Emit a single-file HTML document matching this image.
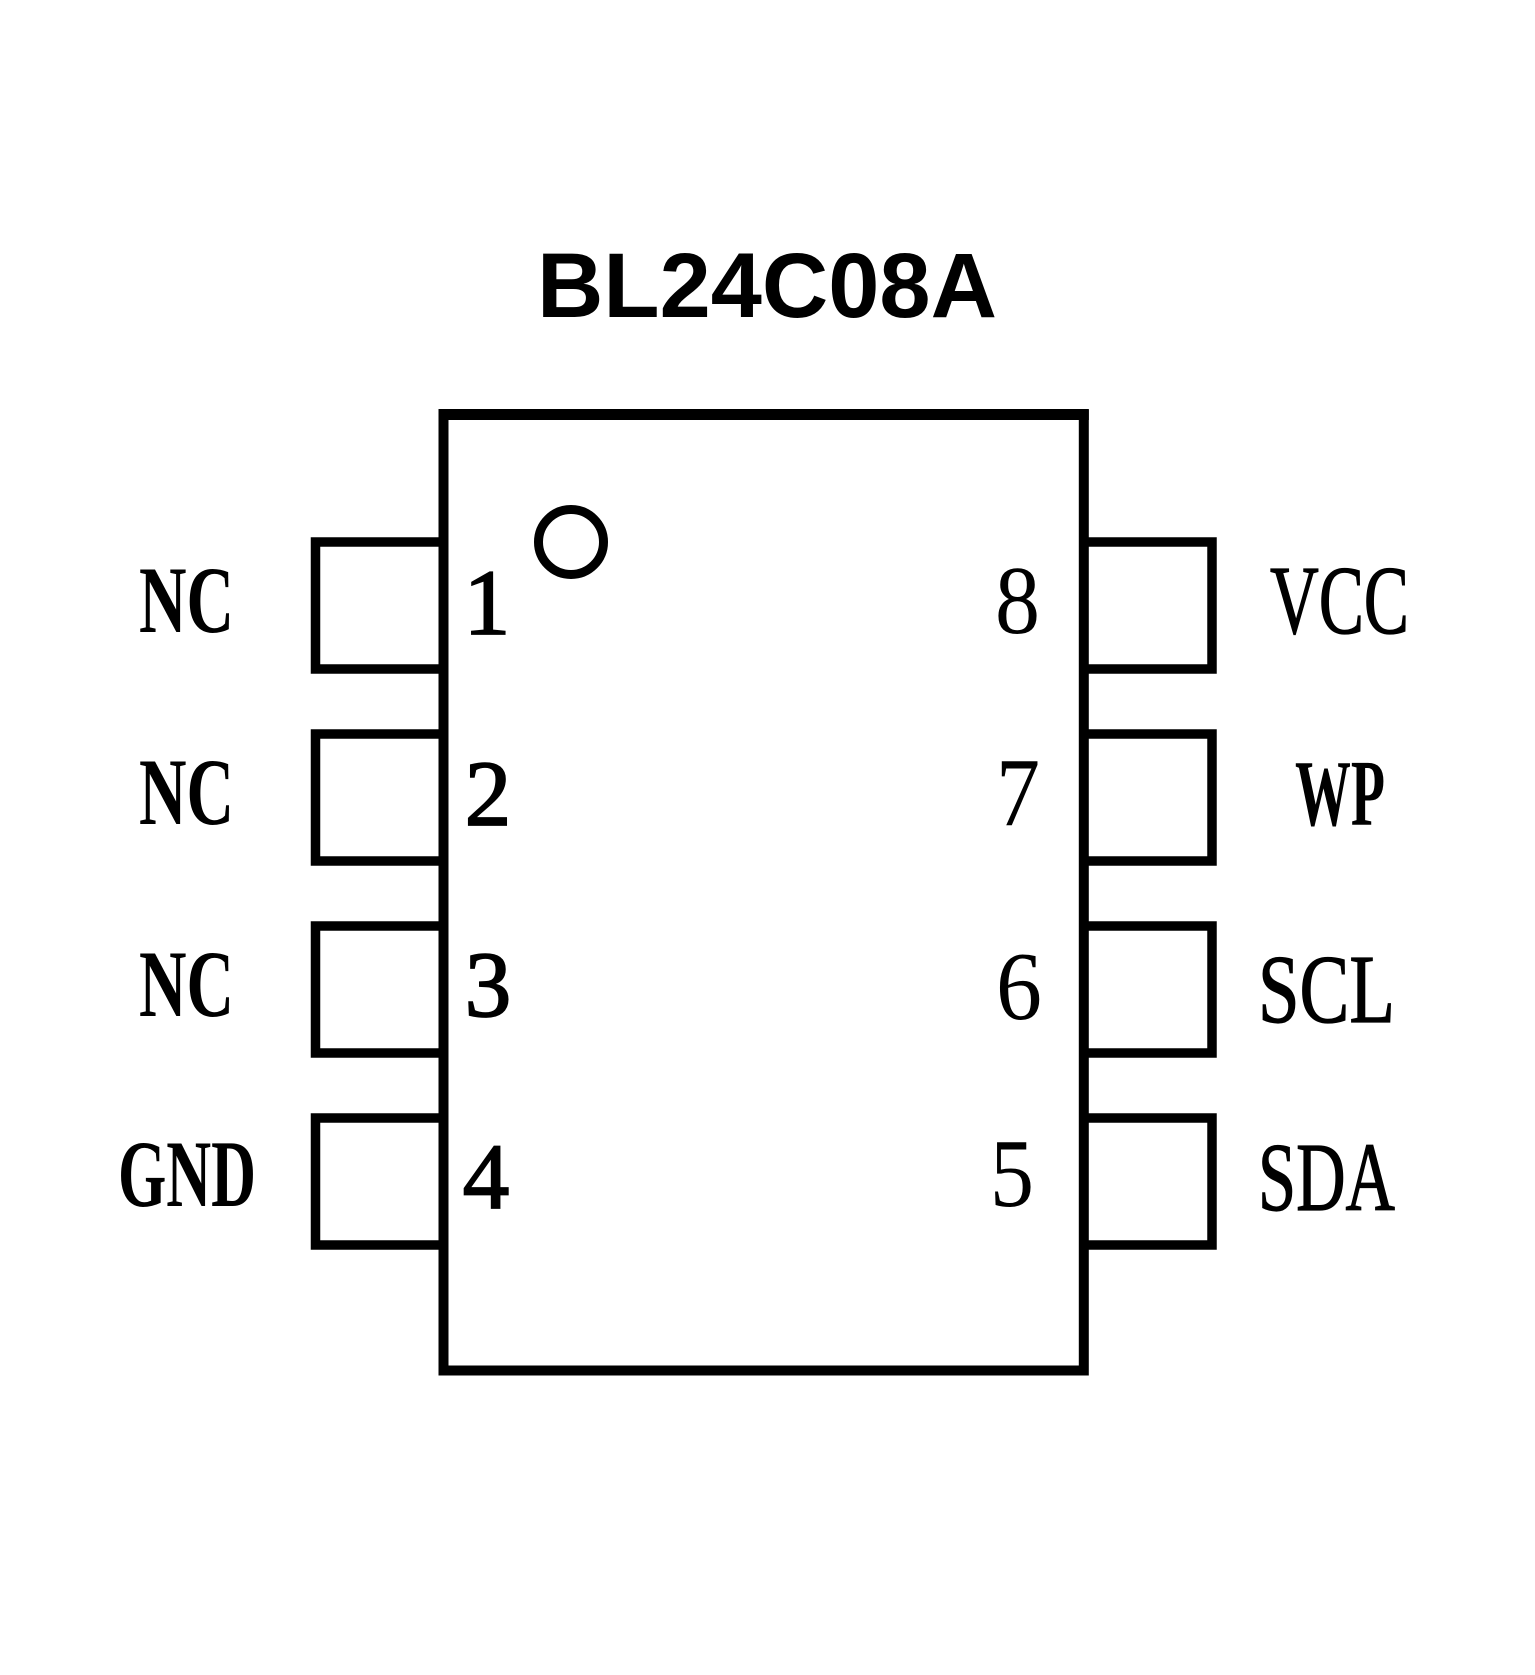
<!DOCTYPE html>
<html>
<head>
<meta charset="utf-8">
<style>
  html, body { margin:0; padding:0; background:#fff; }
  svg { display:block; }
</style>
</head>
<body>
<svg width="1535" height="1675" viewBox="0 0 1535 1675" xmlns="http://www.w3.org/2000/svg">
  <rect x="0" y="0" width="1535" height="1675" fill="#fff"/>

  <!-- Title -->
  <text x="537" y="317" font-family="Liberation Sans, Arial, sans-serif" font-weight="bold" font-size="91.6" textLength="460" lengthAdjust="spacingAndGlyphs" fill="#000">BL24C08A</text>

  <!-- Body -->
  <rect x="443.5" y="414.5" width="640.3" height="956" fill="none" stroke="#000" stroke-width="10"/>
  <line x1="438.5" y1="414.5" x2="1088.8" y2="414.5" stroke="#000" stroke-width="11"/>

  <!-- Pin 1 marker -->
  <circle cx="571" cy="542" r="32.5" fill="none" stroke="#000" stroke-width="9"/>

  <!-- Left pins -->
  <g fill="none" stroke="#000" stroke-width="9.5">
    <path d="M443.5 542 H315.5 V669 H443.5"/>
    <path d="M443.5 734 H315.5 V861 H443.5"/>
    <path d="M443.5 926 H315.5 V1053 H443.5"/>
    <path d="M443.5 1118 H315.5 V1245 H443.5"/>
  </g>

  <!-- Right pins -->
  <g fill="none" stroke="#000" stroke-width="9.5">
    <path d="M1083.8 542 H1212 V669 H1083.8"/>
    <path d="M1083.8 734 H1212 V861 H1083.8"/>
    <path d="M1083.8 926 H1212 V1053 H1083.8"/>
    <path d="M1083.8 1118 H1212 V1245 H1083.8"/>
  </g>

  <!-- Left pin numbers -->
  <g font-family="Liberation Serif, 'Times New Roman', serif" font-size="93" fill="#000" stroke="#000" stroke-width="1.8" text-anchor="middle">
    <text x="487" y="634">1</text>
    <text x="488" y="825">2</text>
    <text x="488" y="1016">3</text>
    <text x="486" y="1208">4</text>
  </g>

  <!-- Right pin numbers -->
  <g font-family="Liberation Serif, 'Times New Roman', serif" font-size="97" fill="#000">
    <text x="995" y="633" textLength="45" lengthAdjust="spacingAndGlyphs">8</text>
    <text x="996" y="825" textLength="44" lengthAdjust="spacingAndGlyphs">7</text>
    <text x="996" y="1019" textLength="46" lengthAdjust="spacingAndGlyphs">6</text>
    <text x="990" y="1206" textLength="44" lengthAdjust="spacingAndGlyphs">5</text>
  </g>

  <!-- Left labels -->
  <g font-family="Liberation Serif, 'Times New Roman', serif" font-weight="bold" font-size="95" fill="#000">
    <text x="139" y="632" textLength="95" lengthAdjust="spacingAndGlyphs">NC</text>
    <text x="139" y="824" textLength="95" lengthAdjust="spacingAndGlyphs">NC</text>
    <text x="139" y="1016" textLength="95" lengthAdjust="spacingAndGlyphs">NC</text>
    <text x="118" y="1206" textLength="138" lengthAdjust="spacingAndGlyphs">GND</text>
  </g>

  <!-- Right labels -->
  <g font-family="Liberation Serif, 'Times New Roman', serif" font-size="97" fill="#000" stroke="#000" stroke-width="1.2">
    <text x="1270" y="633" textLength="139" lengthAdjust="spacingAndGlyphs">VCC</text>
    <text x="1258" y="1022" textLength="137" lengthAdjust="spacingAndGlyphs">SCL</text>
    <text x="1258" y="1210" textLength="137" lengthAdjust="spacingAndGlyphs">SDA</text>
  </g>
  <text x="1295" y="825" font-family="Liberation Serif, 'Times New Roman', serif" font-weight="bold" font-size="94" fill="#000" textLength="90" lengthAdjust="spacingAndGlyphs">WP</text>
</svg>
</body>
</html>
